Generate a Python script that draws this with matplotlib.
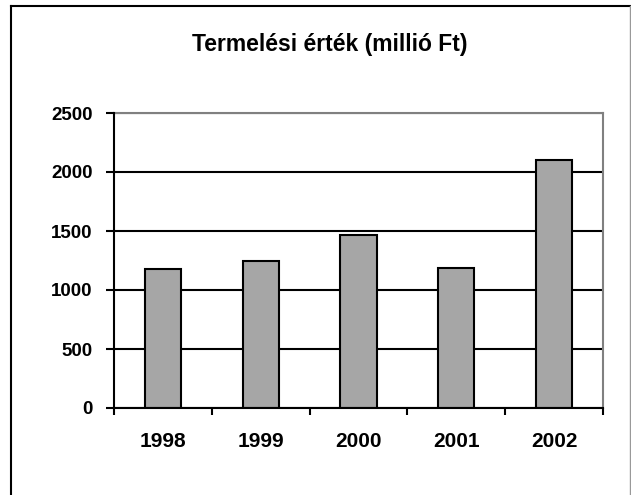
import numpy as np
import matplotlib
matplotlib.use('Agg')
import matplotlib.pyplot as plt
from matplotlib.lines import Line2D

years = ['1998', '1999', '2000', '2001', '2002']
values = [1180, 1245, 1470, 1190, 2100]
yticks = [0, 500, 1000, 1500, 2000, 2500]

plt.rcParams['font.family'] = 'Liberation Sans'
plt.rcParams['font.weight'] = 'bold'

fig = plt.figure(figsize=(6.31, 4.95), dpi=100)
ax = fig.add_axes([114/631, 1-408/495, (603-114)/631, (408-113)/495])

x = np.arange(len(years))
ax.bar(x, values, width=0.37, color='#a6a6a6', edgecolor='black', linewidth=1.5, zorder=3)

ax.set_xlim(-0.5, len(years)-0.5)
ax.set_ylim(0, 2500)
ax.set_yticks(yticks)
ax.set_yticklabels([str(v) for v in yticks], fontsize=13.5, fontweight='bold')
ax.yaxis.grid(True, color='black', linewidth=1.5, zorder=1)

ax.set_xticks(x)
ax.set_xticklabels(years, fontsize=15, fontweight='bold')
ax.set_xticks(np.arange(-0.5, len(years)), minor=True)
ax.tick_params(axis='x', which='major', length=0, pad=17)
ax.tick_params(axis='x', which='minor', length=5, width=1.5, direction='out')
ax.tick_params(axis='y', length=5.5, width=1.5, direction='out', pad=10)

for s in ['left', 'bottom']:
    ax.spines[s].set_color('black')
    ax.spines[s].set_linewidth(1.5)
    ax.spines[s].set_zorder(4)
for s in ['top', 'right']:
    ax.spines[s].set_color('#808080')
    ax.spines[s].set_linewidth(1.5)

fig.text(330/631, 1-44/495, 'Termelési érték (millió Ft)', ha='center', va='center',
         fontsize=16.5, fontweight='bold')

# outer chart border
fig.add_artist(Line2D([11/631, 11/631], [1-5.5/495, -0.01], transform=fig.transFigure,
                      color='black', linewidth=1.5))
fig.add_artist(Line2D([11/631, 1.01], [1-5.5/495, 1-5.5/495], transform=fig.transFigure,
                      color='black', linewidth=1.5))
fig.add_artist(Line2D([630/631, 630/631], [1-5.5/495, -0.01], transform=fig.transFigure,
                      color='#999999', linewidth=1))

fig.savefig('out.png', dpi=100)
